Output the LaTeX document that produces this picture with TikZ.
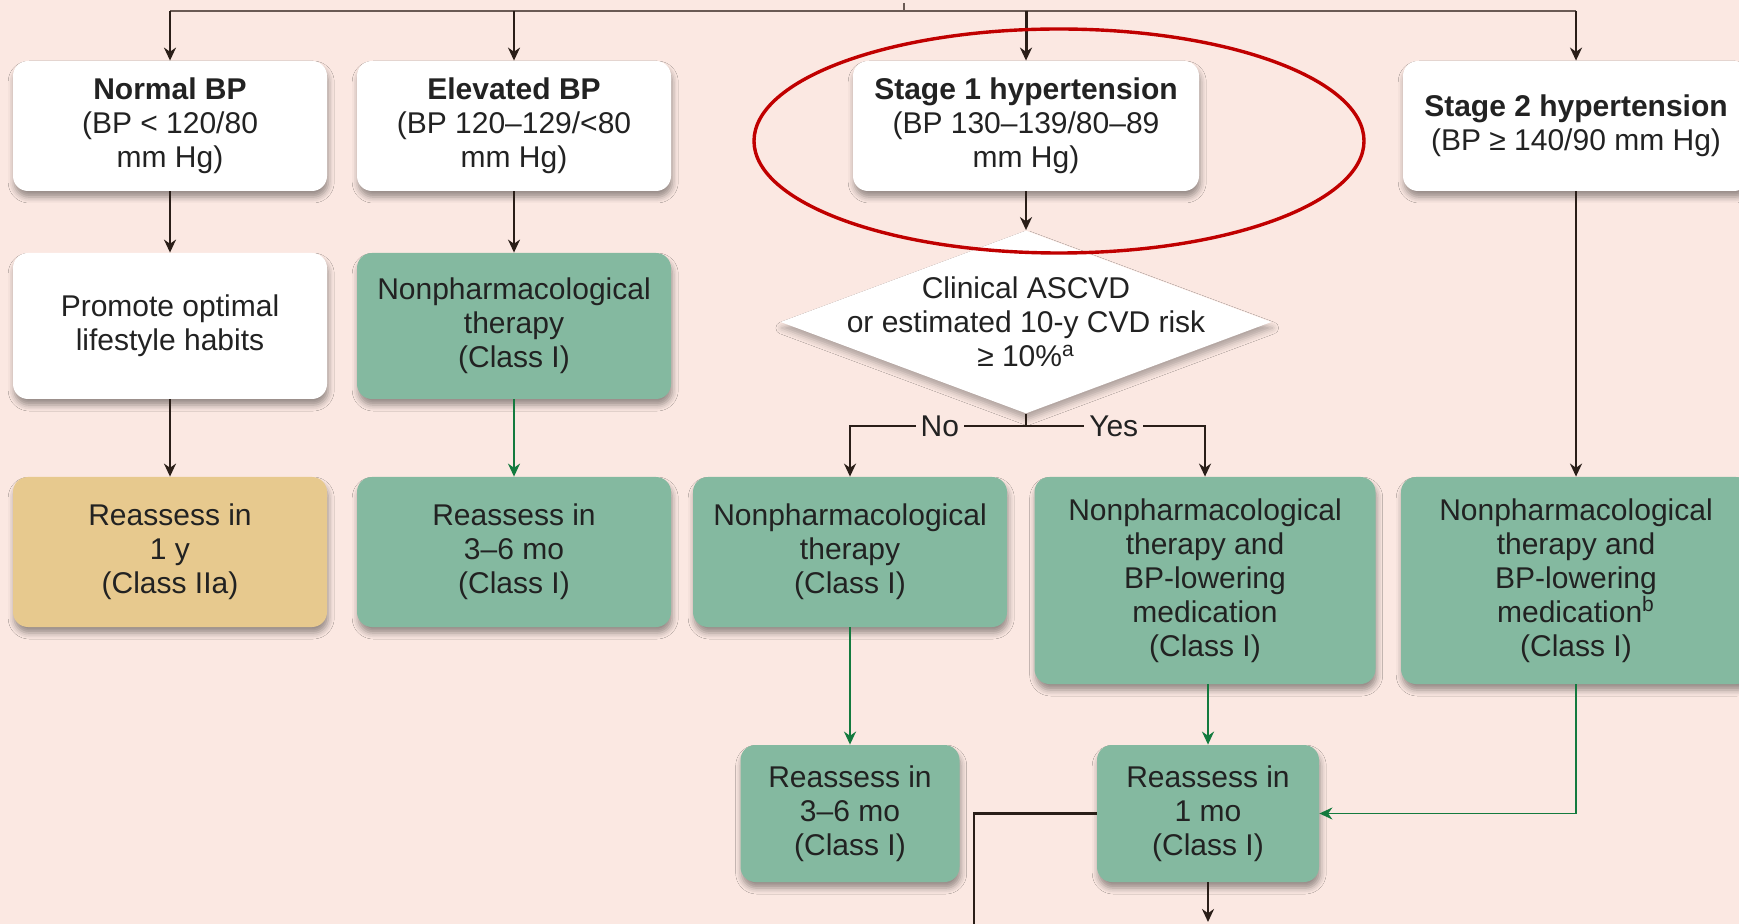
\documentclass[tikz,border=0pt]{standalone}
\usepackage{fontspec}
\setmainfont{Liberation Sans}
\usetikzlibrary{shapes.geometric,shadows.blur,arrows.meta,calc}
\definecolor{bg}{HTML}{FBE8E2}
\definecolor{gfill}{HTML}{84B9A0}
\definecolor{tfill}{HTML}{E7C98E}
\definecolor{garr}{HTML}{137A3E}
\definecolor{karr}{HTML}{2A1E18}
\definecolor{ered}{HTML}{C00000}
\definecolor{txt}{HTML}{222222}
\definecolor{tline}{HTML}{6A5A54}
\begin{document}
\begin{tikzpicture}[x=0.5pt,y=-0.5pt,
  font=\fontsize{15}{17}\selectfont,
  box/.style={rectangle, rounded corners=7.5pt, align=center, text=txt, inner sep=2pt,
    blur shadow={shadow xshift=0.6pt,shadow yshift=-3pt,shadow blur radius=3pt,shadow opacity=40}},
  wbox/.style={box, fill=white},
  gbox/.style={box, fill=gfill},
  tbox/.style={box, fill=tfill},
  dia/.style={diamond, fill=white, inner sep=0pt, minimum width=245.5pt, minimum height=91.5pt,
    blur shadow={shadow xshift=0.6pt,shadow yshift=-3pt,shadow blur radius=3pt,shadow opacity=30}},
  kline/.style={draw=karr, line width=1.1pt},
  karrow/.style={kline, -{Stealth[length=6.5pt,width=6pt]}},
  garrow/.style={draw=garr, line width=1.2pt, -{Stealth[length=6.5pt,width=6pt]}},
  topline/.style={draw=tline, line width=0.7pt},
  lbl/.style={fill=bg, inner sep=2.5pt, text=txt},
]
\useasboundingbox (0,0) rectangle (1739,924);
\fill[bg] (0,0) rectangle (1739,924);

% Row 1
\node[wbox, minimum width=157pt, minimum height=65pt] (norm) at (170,126)
  {\textbf{Normal BP}\\(BP < 120/80\\mm Hg)};
\node[wbox, minimum width=157pt, minimum height=65pt] (elev) at (514,126)
  {\textbf{Elevated BP}\\(BP 120–129/<80\\mm Hg)};
\node[wbox, minimum width=173pt, minimum height=65pt] (s1) at (1026,126)
  {\textbf{Stage 1 hypertension}\\(BP 130–139/80–89\\mm Hg)};
\node[wbox, minimum width=173pt, minimum height=65pt] (s2) at (1576,126)
  {\textbf{Stage 2 hypertension}\\(BP ≥ 140/90 mm Hg)};

% Row 2
\node[wbox, minimum width=157pt, minimum height=73pt] (prom) at (170,326)
  {Promote optimal\\lifestyle habits};
\node[gbox, minimum width=157pt, minimum height=73pt] (np1) at (514,326)
  {Nonpharmacological\\therapy\\(Class I)};
\node[dia] (dia) at (1026,322) {};
\node[align=center, text=txt] (diatxt) at (1026,322)
  {Clinical ASCVD\\or estimated 10-y CVD risk\\≥ 10\%\textsuperscript{a}};

% Row 3
\node[tbox, minimum width=157pt, minimum height=75pt] (r1y) at (170,552)
  {Reassess in\\1 y\\(Class IIa)};
\node[gbox, minimum width=157pt, minimum height=75pt] (r36a) at (514,552)
  {Reassess in\\3–6 mo\\(Class I)};
\node[gbox, minimum width=157pt, minimum height=75pt] (npno) at (850,552)
  {Nonpharmacological\\therapy\\(Class I)};
\node[gbox, minimum width=170.5pt, minimum height=103.5pt] (npyes) at (1205,580.5)
  {Nonpharmacological\\therapy and\\BP-lowering\\medication\\(Class I)};
\node[gbox, minimum width=175pt, minimum height=103.5pt] (nps2) at (1576,580.5)
  {Nonpharmacological\\therapy and\\BP-lowering\\medication\textsuperscript{b}\\(Class I)};

% Row 4
\node[gbox, minimum width=109.5pt, minimum height=68.5pt] (r36b) at (850,813.5)
  {Reassess in\\3–6 mo\\(Class I)};
\node[gbox, minimum width=111pt, minimum height=68.5pt] (r1mo) at (1208,813.5)
  {Reassess in\\1 mo\\(Class I)};

% Top distribution line
\coordinate (tl) at (170,11);
\coordinate (tr) at (1576,11);
\coordinate (tin) at (904,3);
\draw[topline] (tl) -- (tr);
\draw[topline] (tin) -- (tin |- tl);
\draw[karrow] (norm.north |- tl) -- (norm.north);
\draw[karrow] (elev.north |- tl) -- (elev.north);
\draw[karrow, line width=1.5pt] (s1.north |- tl) -- (s1.north);
\draw[karrow] (s2.north |- tl) -- (s2.north);

% Vertical flows
\draw[karrow] (norm) -- (prom);
\draw[karrow] (elev) -- (np1);
\draw[karrow] (prom) -- (r1y);
\draw[garrow] (np1) -- (r36a);
\draw[karrow] (s1) -- (dia);
\draw[karrow] (s2) -- (nps2);

% Decision split
\coordinate (split) at (1026,426);
\draw[kline] (dia.south) -- (split);
\draw[karrow] (split) -- node[lbl, pos=0.49] {No} (split -| npno) -- (npno.north);
\draw[karrow] (split) -- node[lbl, pos=0.49] {Yes} (split -| npyes) -- (npyes.north);

\draw[garrow] (npno) -- (r36b);
\draw[garrow] (npyes.south -| r1mo) -- (r1mo.north);
\draw[garrow, line width=0.8pt] (nps2.south) -- (nps2.south |- r1mo.east) -- (r1mo.east);

% Exits at bottom
\coordinate (lb) at (974,924);
\coordinate (bb) at (1208,922);
\draw[kline] (r1mo.west) -- (r1mo.west -| lb) -- (lb);
\draw[karrow] (r1mo.south) -- (bb);

% Red highlight ellipse
\draw[ered, line width=1.7pt] (1059,141) ellipse [x radius=152.5pt, y radius=56pt];
\end{tikzpicture}
\end{document}
